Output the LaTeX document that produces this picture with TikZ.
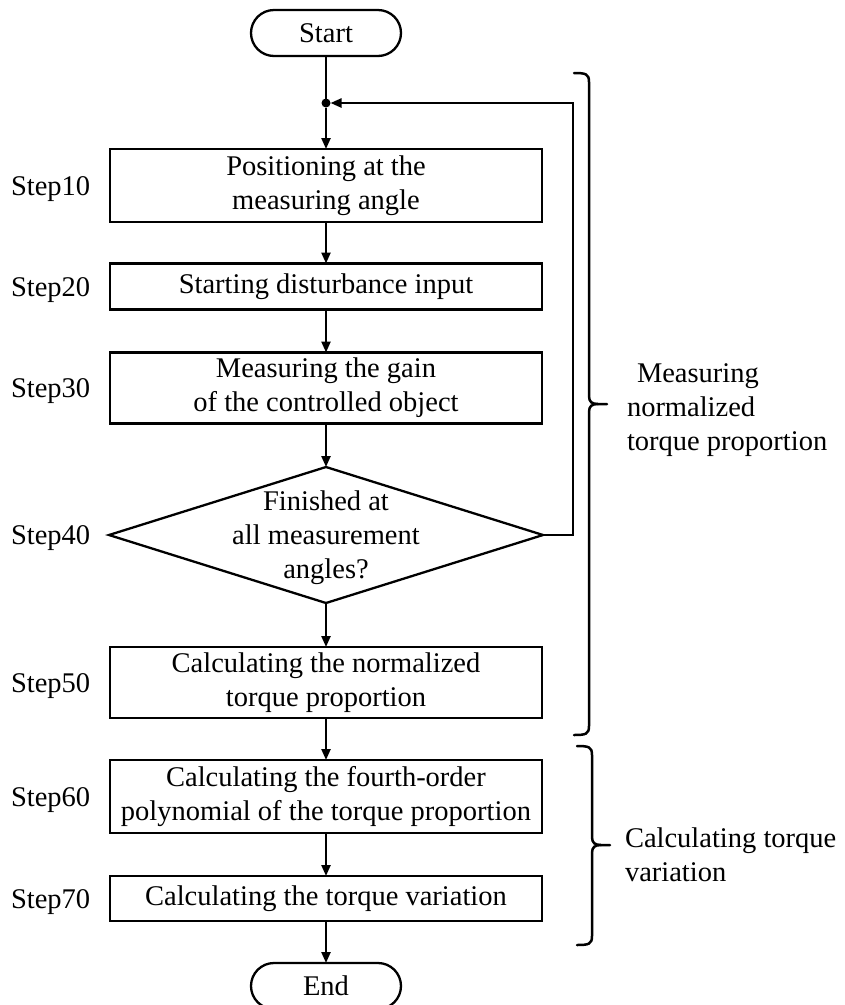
\documentclass[tikz,border=0pt]{standalone}
\usepackage{fontspec}
\setmainfont{Liberation Serif}
\usetikzlibrary{arrows.meta,shapes.geometric}

\begin{document}
\begin{tikzpicture}[x=1pt,y=-1pt,
  font=\fontsize{28.5}{34}\selectfont,
  every node/.style={inner sep=0pt, outer sep=0pt},
  box/.style={draw, line width=2.3pt, minimum width=432pt, align=center},
  term/.style={draw, line width=2.3pt, rounded corners=23pt, minimum width=150pt, minimum height=46pt},
  lbl/.style={anchor=base west},
  arr/.style={line width=2.3pt, -{Triangle[length=11pt,width=9pt]}},
  ln/.style={line width=2.3pt},
  brc/.style={line width=2.5pt, line cap=round},
]
\useasboundingbox (0,0) rectangle (845,1005);

% terminals, process boxes and the decision
\node[term] (start) at (326,33) {Start};
\node[circle, fill, minimum size=9pt] (dot) at (326,103) {};
\node[box, minimum height=73pt] (s10) at (326,185.5) {Positioning at the\\measuring angle};
\node[box, minimum height=46pt] (s20) at (326,286.5) {Starting disturbance input};
\node[box, minimum height=71pt] (s30) at (326,388) {Measuring the gain\\of the controlled object};
\node[diamond, draw, line width=2.3pt, minimum width=434pt, minimum height=136pt] (d40) at (326,535) {};
\node[align=center] (q40) at (326,538) {Finished at\\all measurement\\angles?};
\node[box, minimum height=71pt] (s50) at (326,682.5) {Calculating the normalized\\torque proportion};
\node[box, minimum height=73pt] (s60) at (326,796.5) {Calculating the fourth-order\\polynomial of the torque proportion};
\node[box, minimum height=45pt] (s70) at (326,898.5) {Calculating the torque variation};
\node[term] (end) at (326,986) {End};

% step labels
\node[lbl] (l10) at (11,195) {Step10};
\node[lbl] (l20) at (11,296) {Step20};
\node[lbl] (l30) at (11,397.5) {Step30};
\node[lbl] (l40) at (11,544.5) {Step40};
\node[lbl] (l50) at (11,692) {Step50};
\node[lbl] (l60) at (11,806) {Step60};
\node[lbl] (l70) at (11,908) {Step70};

% flow connectors
\draw[ln] (start) -- (dot);
\draw[arr] (dot) -- (s10);
\draw[arr] (s10) -- (s20);
\draw[arr] (s20) -- (s30);
\draw[arr] (s30) -- (d40);
\draw[arr] (d40) -- (s50);
\draw[arr] (s50) -- (s60);
\draw[arr] (s60) -- (s70);
\draw[arr] (s70) -- (end);

% loop back to the measuring angle
\coordinate (ret) at (573,103);
\draw[arr] (d40.east) -| (ret) -- (dot);

% brace: measuring phase
\draw[brc] (574,73) .. controls (586,73) and (589,74) .. (589,82) -- (589,396)
  .. controls (589,402) and (592,404) .. (598,404) -- (607,404);
\draw[brc] (598,404) .. controls (592,404) and (589,406) .. (589,412) -- (589,726)
  .. controls (589,734) and (586,735) .. (574,735);
\node[align=left, anchor=west] (t1) at (627,410) {\hspace*{10pt}Measuring\\normalized\\torque proportion};

% brace: calculating phase
\draw[brc] (577,746) .. controls (589,746) and (592,747) .. (592,755) -- (592,837)
  .. controls (592,843) and (595,845) .. (601,845) -- (610,845);
\draw[brc] (601,845) .. controls (595,845) and (592,847) .. (592,853) -- (592,936)
  .. controls (592,944) and (589,945) .. (577,945);
\node[align=left, anchor=west] (t2) at (625,855) {Calculating torque\\variation};
\end{tikzpicture}
\end{document}
